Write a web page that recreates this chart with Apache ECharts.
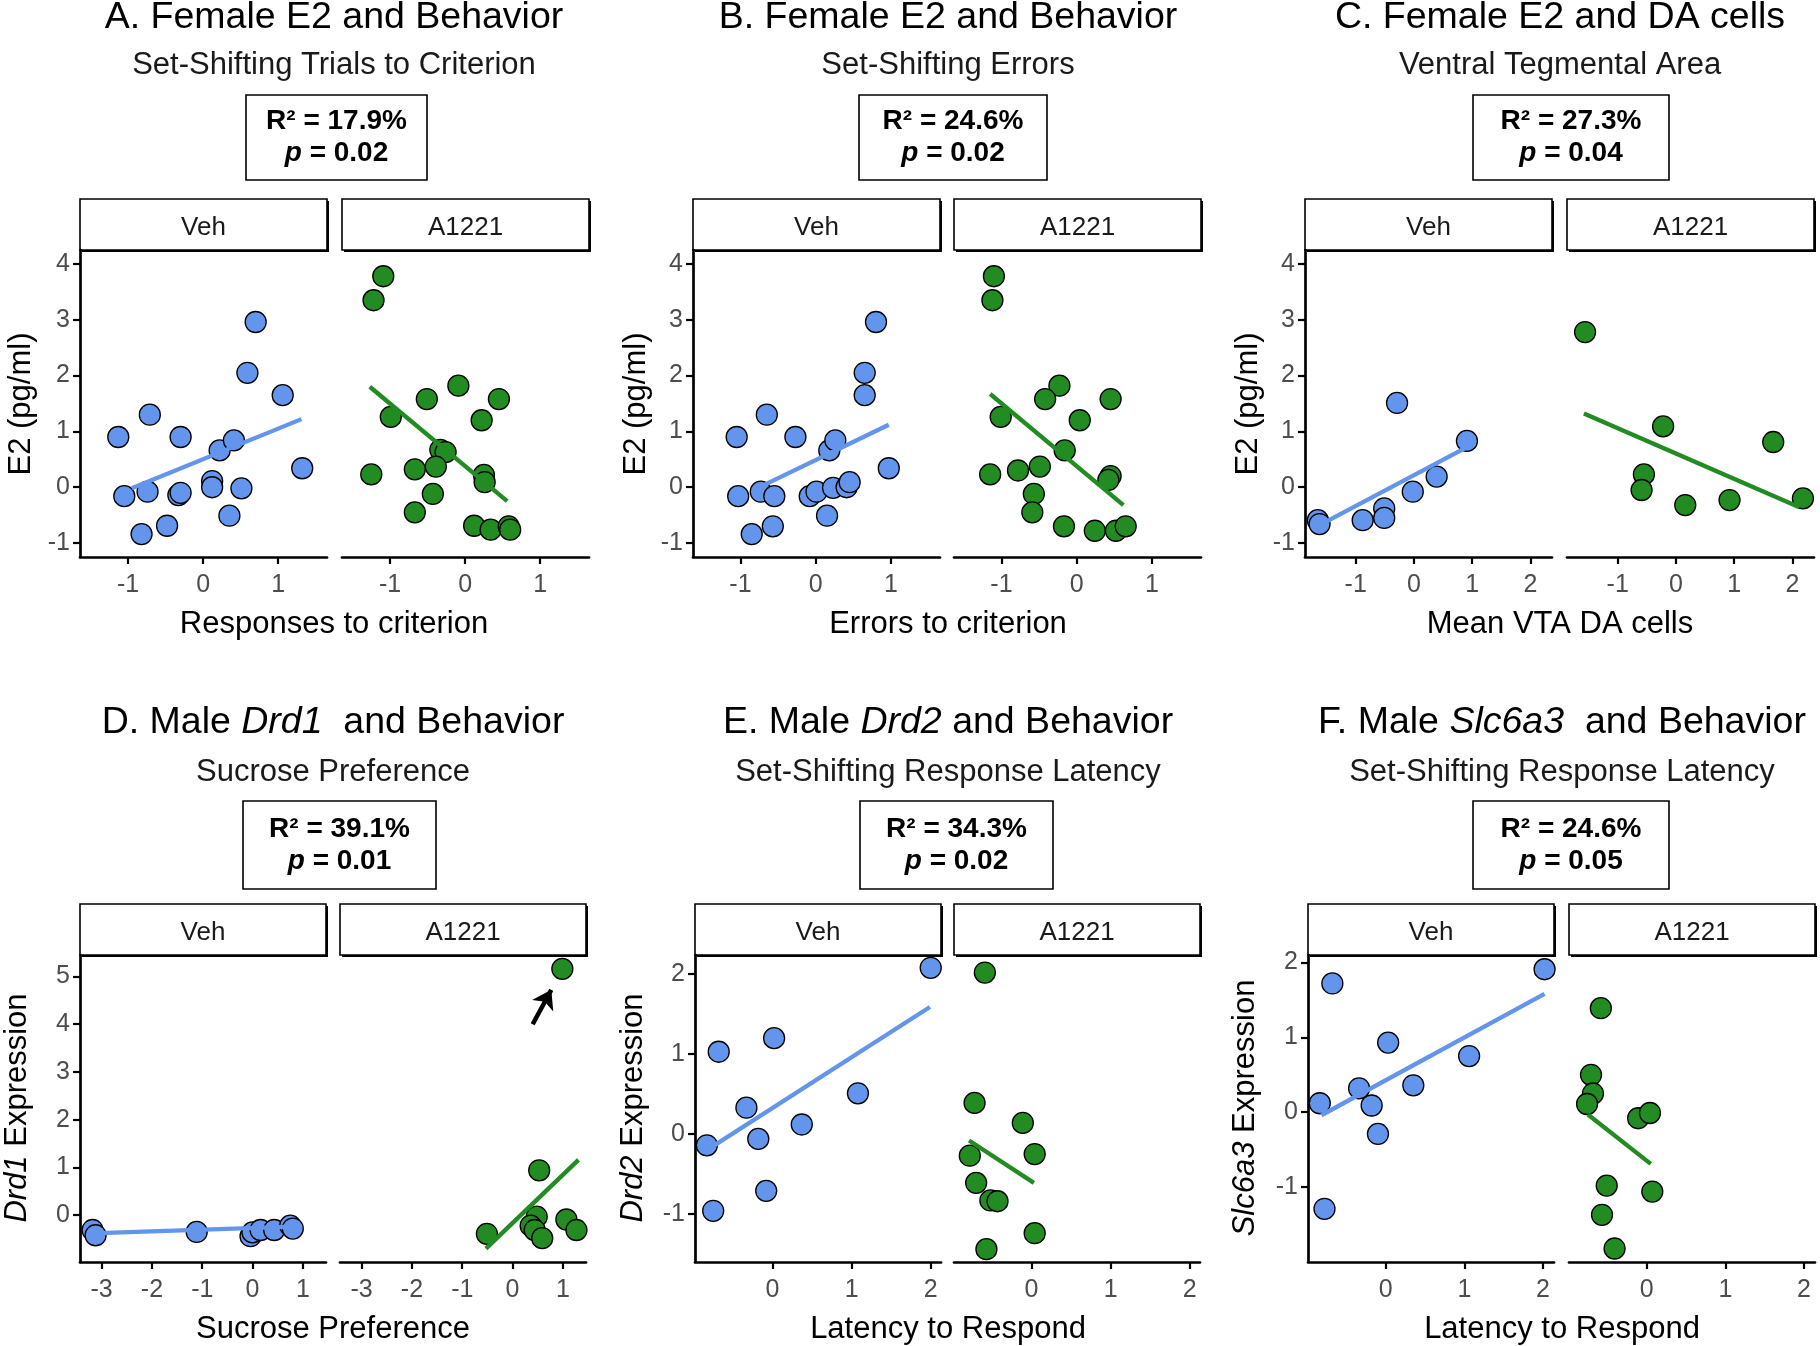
<!DOCTYPE html>
<html lang="en">
<head>
<meta charset="UTF-8">
<title>E2 and dopamine gene expression vs behavior</title>
<script src="https://cdn.jsdelivr.net/npm/echarts@6.0.0/dist/echarts.min.js"></script>
<style>
  html, body { margin: 0; padding: 0; background: #fff; }
  #chart { width: 1820px; height: 1346px; }
</style>
</head>
<body>
<div id="chart"></div>
<script>
// ---- data (x, y pairs) ----
const facetNames = ['Veh', 'A1221'];

// A. E2 vs responses to criterion
const aVeh = [[-1.13,0.90],[-0.71,1.30],[-0.30,0.90],[-1.05,-0.16],[-0.74,-0.08],[-0.33,-0.14],[-0.30,-0.10],
  [-0.82,-0.84],[-0.48,-0.69],[0.12,0.11],[0.12,0.00],[0.22,0.66],[0.41,0.84],[0.51,-0.02],[0.35,-0.51],
  [0.59,2.05],[0.70,2.96],[1.06,1.65],[1.32,0.34]];
const aVehFit = [[-0.95,-0.02],[1.31,1.22]];
const aDrug = [[-1.09,3.78],[-1.22,3.35],[-0.09,1.82],[-0.51,1.58],[0.45,1.58],[-0.99,1.26],[0.22,1.20],
  [-0.33,0.67],[-0.26,0.63],[-0.67,0.32],[-0.39,0.37],[-1.25,0.23],[0.25,0.22],[0.26,0.09],[-0.43,-0.12],
  [-0.67,-0.45],[0.12,-0.69],[0.34,-0.76],[0.58,-0.70],[0.60,-0.76]];
const aDrugFit = [[-1.27,1.80],[0.56,-0.25]];

// B. E2 vs errors to criterion
const bVeh = [[-1.05,0.90],[-0.65,1.30],[-0.27,0.90],[-1.03,-0.16],[-0.73,-0.08],[-0.55,-0.16],[-0.85,-0.84],
  [-0.57,-0.70],[-0.08,-0.16],[0.01,-0.08],[0.15,-0.51],[0.23,-0.01],[0.41,0.00],[0.45,0.09],[0.18,0.66],
  [0.26,0.84],[0.65,2.05],[0.65,1.65],[0.80,2.96],[0.97,0.34]];
const bVehFit = [[-0.67,0.05],[0.97,1.12]];
const bDrug = [[-1.10,3.78],[-1.12,3.35],[-0.23,1.82],[-0.42,1.58],[0.45,1.58],[-1.01,1.26],[0.04,1.20],
  [-0.16,0.66],[-1.15,0.23],[-0.78,0.30],[-0.49,0.37],[0.45,0.20],[0.42,0.13],[-0.57,-0.12],[-0.59,-0.45],
  [-0.17,-0.70],[0.24,-0.78],[0.52,-0.78],[0.65,-0.70]];
const bDrugFit = [[-1.15,1.67],[0.62,-0.32]];

// C. E2 vs mean VTA DA cells
const cVeh = [[-1.65,-0.59],[-1.62,-0.66],[-0.88,-0.59],[-0.51,-0.38],[-0.51,-0.55],[-0.29,1.51],
  [-0.02,-0.08],[0.39,0.19],[0.91,0.83]];
const cVehFit = [[-1.66,-0.70],[0.91,0.72]];
const cDrug = [[-1.56,2.78],[-0.22,1.09],[1.67,0.81],[-0.55,0.23],[-0.59,-0.05],[0.16,-0.32],[0.92,-0.23],[2.18,-0.20]];
const cDrugFit = [[-1.58,1.32],[2.12,-0.36]];

// D. Drd1 vs sucrose preference
const dVeh = [[-3.18,-0.31],[-3.12,-0.42],[-1.11,-0.35],[-0.04,-0.44],[0.00,-0.36],[0.16,-0.31],
  [0.43,-0.31],[0.75,-0.22],[0.80,-0.28]];
const dVehFit = [[-3.20,-0.38],[0.82,-0.24]];
const dDrug = [[0.99,5.16],[0.53,0.94],[-0.51,-0.39],[0.48,-0.03],[0.36,-0.22],[0.44,-0.31],[0.59,-0.48],
  [1.07,-0.09],[1.27,-0.31]];
const dDrugFit = [[-0.53,-0.70],[1.31,1.16]];
const dArrow = [[0.40,4.00],[0.77,4.72]];

// E. Drd2 vs latency to respond
const eVeh = [[-0.83,-0.14],[-0.75,-0.96],[-0.68,1.03],[-0.33,0.33],[-0.18,-0.06],[-0.08,-0.71],
  [0.02,1.20],[0.37,0.12],[1.08,0.51],[2.00,2.08]];
const eVehFit = [[-0.83,-0.20],[1.99,1.59]];
const eDrug = [[-0.59,2.02],[-0.72,0.39],[-0.11,0.14],[-0.78,-0.27],[0.04,-0.25],[-0.70,-0.61],
  [-0.52,-0.83],[-0.43,-0.84],[0.04,-1.24],[-0.57,-1.44]];
const eDrugFit = [[-0.79,-0.08],[0.03,-0.61]];

// F. Slc6a3 vs latency to respond
const fVeh = [[-0.84,0.12],[-0.78,-1.29],[-0.68,1.72],[-0.34,0.32],[-0.18,0.09],[-0.10,-0.29],
  [0.03,0.93],[0.35,0.36],[1.06,0.75],[2.02,1.91]];
const fVehFit = [[-0.82,-0.04],[2.02,1.58]];
const fDrug = [[-0.585,1.39],[-0.71,0.50],[-0.685,0.25],[-0.76,0.11],[-0.11,-0.08],[0.04,-0.01],
  [-0.51,-0.98],[0.07,-1.06],[-0.57,-1.37],[-0.41,-1.82]];
const fDrugFit = [[-0.75,-0.03],[0.05,-0.69]];

// tick labels
const ticksE2 = [-1, 0, 1, 2, 3, 4];
const ticksX1 = [-1, 0, 1];
const ticksXC = [-1, 0, 1, 2];
const ticksXD = [-3, -2, -1, 0, 1];
const ticksYD = [0, 1, 2, 3, 4, 5];
const ticksLat = [0, 1, 2];
const ticksYEF = [-1, 0, 1, 2];

const panels = [
  { id: 'A', title: 'A. Female E2 and Behavior', sub: 'Set-Shifting Trials to Criterion', r2: '17.9%', p: '0.02',
    xName: 'Responses to criterion', yName: 'E2 (pg/ml)', veh: aVeh, drug: aDrug, vehFit: aVehFit, drugFit: aDrugFit,
    xTicks: ticksX1, yTicks: ticksE2, xRange: [-1.64, 1.65], yRange: [-1.25, 4.25] },
  { id: 'B', title: 'B. Female E2 and Behavior', sub: 'Set-Shifting Errors', r2: '24.6%', p: '0.02',
    xName: 'Errors to criterion', yName: 'E2 (pg/ml)', veh: bVeh, drug: bDrug, vehFit: bVehFit, drugFit: bDrugFit,
    xTicks: ticksX1, yTicks: ticksE2, xRange: [-1.63, 1.65], yRange: [-1.25, 4.25] },
  { id: 'C', title: 'C. Female E2 and DA cells', sub: 'Ventral Tegmental Area', r2: '27.3%', p: '0.04',
    xName: 'Mean VTA DA cells', yName: 'E2 (pg/ml)', veh: cVeh, drug: cDrug, vehFit: cVehFit, drugFit: cDrugFit,
    xTicks: ticksXC, yTicks: ticksE2, xRange: [-1.87, 2.37], yRange: [-1.25, 4.25] },
  { id: 'D', title: 'D. Male {i|Drd1}  and Behavior', sub: 'Sucrose Preference', r2: '39.1%', p: '0.01',
    xName: 'Sucrose Preference', yName: '{i|Drd1} Expression', veh: dVeh, drug: dDrug, vehFit: dVehFit, drugFit: dDrugFit,
    arrow: dArrow, xTicks: ticksXD, yTicks: ticksYD, xRange: [-3.43, 1.46], yRange: [-0.98, 5.45] },
  { id: 'E', title: 'E. Male {i|Drd2} and Behavior', sub: 'Set-Shifting Response Latency', r2: '34.3%', p: '0.02',
    xName: 'Latency to Respond', yName: '{i|Drd2} Expression', veh: eVeh, drug: eDrug, vehFit: eVehFit, drugFit: eDrugFit,
    xTicks: ticksLat, yTicks: ticksYEF, xRange: [-0.98, 2.13], yRange: [-1.60, 2.24] },
  { id: 'F', title: 'F. Male {i|Slc6a3}  and Behavior', sub: 'Set-Shifting Response Latency', r2: '24.6%', p: '0.05',
    xName: 'Latency to Respond', yName: '{i|Slc6a3} Expression', veh: fVeh, drug: fDrug, vehFit: fVehFit, drugFit: fDrugFit,
    xTicks: ticksLat, yTicks: ticksYEF, xRange: [-0.99, 2.14], yRange: [-2.00, 2.10] }
];

// ---- layout (pixels) ----
const FONT = '"Liberation Sans", Arial, sans-serif';
const VEH_COLOR = '#6495ED';
const DRUG_COLOR = '#228B22';
const PLOT_H = 307;
const STRIP_H = 51;
const TICK_FONT = 25;
const rows = [
  { title: 18, sub: 65, boxTop: 95, boxH: 85, stripTop: 199, plotTop: 250, xTitle: 624, yTitle: 404 },
  { title: 723, sub: 772, boxTop: 801, boxH: 88, stripTop: 904, plotTop: 955, xTitle: 1329, yTitle: 1108 }
];
const layout = {
  A: { row: 0, x: [80, 342], w: 247, cx: 334, box: [246, 427], yTitleX: 21 },
  B: { row: 0, x: [693, 954], w: 247, cx: 948, box: [859, 1047], yTitleX: 636 },
  C: { row: 0, x: [1305, 1567], w: 247, cx: 1560, box: [1473, 1669], yTitleX: 1248 },
  D: { row: 1, x: [80, 340], w: 246, cx: 333, box: [243, 436], yTitleX: 17 },
  E: { row: 1, x: [695, 954], w: 246, cx: 948, box: [860, 1053], yTitleX: 633 },
  F: { row: 1, x: [1308, 1569], w: 246, cx: 1562, box: [1473, 1669], yTitleX: 1245 }
};

function label(text, x, y, size, extra) {
  return {
    type: 'text', x: x, y: y, silent: true,
    style: Object.assign({
      text: text, fill: '#000', fontSize: size, fontFamily: FONT,
      align: 'center', verticalAlign: 'middle',
      rich: {
        i: { fontStyle: 'italic', fontSize: size, fontFamily: FONT, fill: '#000' }
      }
    }, extra || {})
  };
}

const chart = echarts.init(document.getElementById('chart'));
const grids = [], xAxes = [], yAxes = [], series = [], graphics = [];

panels.forEach(function (p) {
  const L = layout[p.id];
  const R = rows[L.row];

  [0, 1].forEach(function (f) {
    const gi = grids.length;
    grids.push({ left: L.x[f], top: R.plotTop, width: L.w, height: PLOT_H });

    xAxes.push({
      type: 'value', gridIndex: gi, min: p.xRange[0], max: p.xRange[1],
      axisLine: { show: true, onZero: false, lineStyle: { color: '#000', width: 2.7 } },
      axisTick: { show: true, length: 7, customValues: p.xTicks, lineStyle: { color: '#000', width: 2.2 } },
      axisLabel: { customValues: p.xTicks, color: '#4D4D4D', fontSize: TICK_FONT, fontFamily: FONT, margin: 16 },
      splitLine: { show: false }
    });
    yAxes.push({
      type: 'value', gridIndex: gi, min: p.yRange[0], max: p.yRange[1], show: f === 0,
      axisLine: { show: true, onZero: false, lineStyle: { color: '#000', width: 2.7 } },
      axisTick: { show: true, length: 7, customValues: p.yTicks, lineStyle: { color: '#000', width: 2.2 } },
      axisLabel: { customValues: p.yTicks, color: '#4D4D4D', fontSize: TICK_FONT, fontFamily: FONT, margin: 10 },
      splitLine: { show: false }
    });

    const color = f === 0 ? VEH_COLOR : DRUG_COLOR;
    series.push({
      type: 'scatter', xAxisIndex: gi, yAxisIndex: gi,
      data: f === 0 ? p.veh : p.drug,
      symbol: 'circle', symbolSize: 21, z: 2,
      itemStyle: { color: color, opacity: 1, borderColor: '#000', borderWidth: 1.3 },
      emphasis: { disabled: true }
    });
    const fitSeries = {
      type: 'line', xAxisIndex: gi, yAxisIndex: gi,
      data: f === 0 ? p.vehFit : p.drugFit,
      symbol: 'none', z: 3,
      lineStyle: { color: color, width: 4.3 },
      emphasis: { disabled: true }
    };
    if (f === 1 && p.arrow) {
      fitSeries.markLine = {
        silent: true, symbol: ['none', 'arrow'], symbolSize: 18,
        label: { show: false },
        lineStyle: { color: '#000', width: 4.5, type: 'solid' },
        data: [[{ coord: p.arrow[0] }, { coord: p.arrow[1] }]]
      };
    }
    series.push(fitSeries);

    // facet strip
    graphics.push({ type: 'rect', silent: true,
      shape: { x: L.x[f] + 2, y: R.stripTop + 2, width: L.w, height: STRIP_H },
      style: { fill: '#000' } });
    graphics.push({ type: 'rect', silent: true,
      shape: { x: L.x[f], y: R.stripTop, width: L.w, height: STRIP_H },
      style: { fill: '#fff', stroke: '#000', lineWidth: 1.6 } });
    graphics.push(label(facetNames[f], L.x[f] + L.w / 2, R.stripTop + STRIP_H / 2 + 3, 26, { fill: '#1A1A1A' }));
  });

  // titles
  graphics.push(label(p.title, L.cx, R.title, 37.5));
  graphics.push(label(p.sub, L.cx, R.sub, 31, { fill: '#1A1A1A' }));

  // stats box
  graphics.push({ type: 'rect', silent: true,
    shape: { x: L.box[0], y: R.boxTop, width: L.box[1] - L.box[0], height: R.boxH },
    style: { fill: '#fff', stroke: '#000', lineWidth: 1.6 } });
  graphics.push({
    type: 'text', silent: true, x: (L.box[0] + L.box[1]) / 2, y: R.boxTop + R.boxH / 2,
    style: {
      text: '{b|R\u00B2 = ' + p.r2 + '}\n{bi|p}{b| = ' + p.p + '}',
      align: 'center', verticalAlign: 'middle', fill: '#000',
      rich: {
        b: { fontFamily: FONT, fontSize: 28, fontWeight: 'bold', fill: '#000', lineHeight: 32 },
        bi: { fontFamily: FONT, fontSize: 28, fontWeight: 'bold', fontStyle: 'italic', fill: '#000', lineHeight: 32 }
      }
    }
  });

  // axis titles
  graphics.push(label(p.xName, L.cx, R.xTitle, 31));
  graphics.push(Object.assign(label(p.yName, L.yTitleX, R.yTitle, 31), { rotation: Math.PI / 2 }));
});

chart.setOption({
  animation: false,
  backgroundColor: '#fff',
  grid: grids,
  xAxis: xAxes,
  yAxis: yAxes,
  series: series,
  graphic: { elements: graphics }
});
</script>
</body>
</html>
